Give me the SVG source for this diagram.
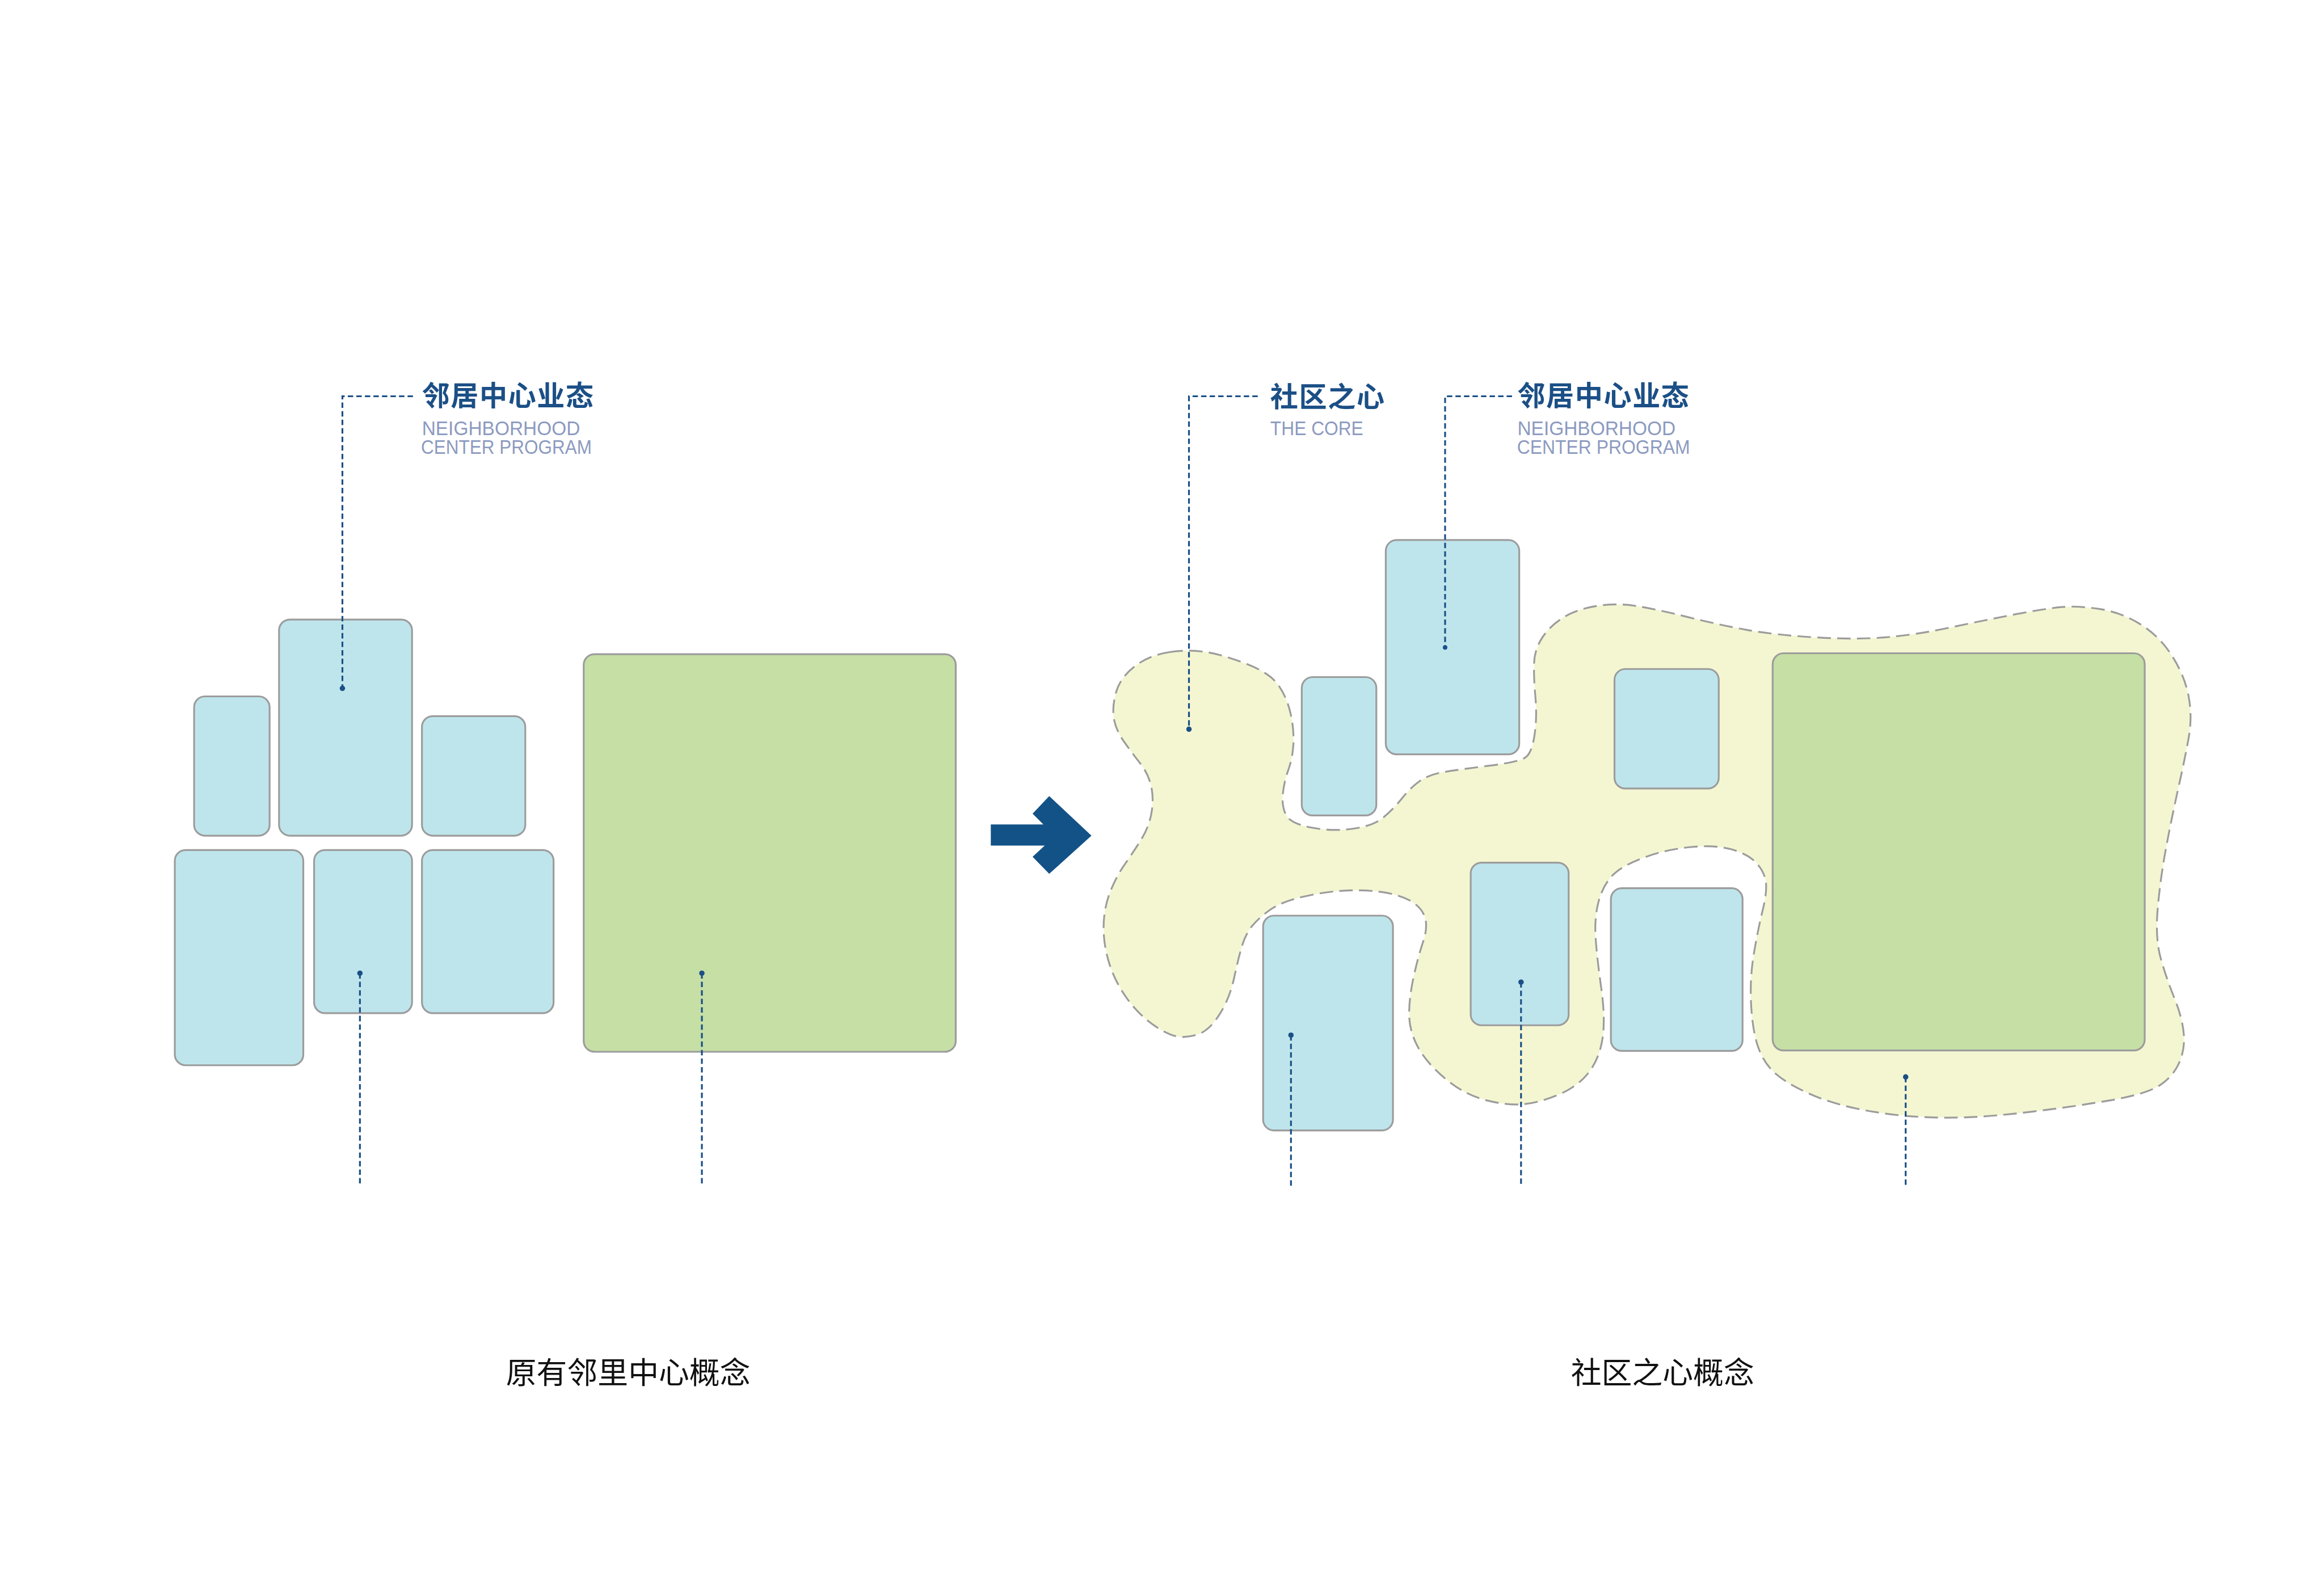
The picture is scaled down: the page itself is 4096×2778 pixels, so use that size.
<svg xmlns="http://www.w3.org/2000/svg" width="4096" height="2778" viewBox="0 0 4096 2778">
<defs>
<style>
.bx{fill:#BEE5EC;stroke:#9C9C9C;stroke-width:4}
.gr{fill:#C5DFA5;stroke:#9C9C9C;stroke-width:4}
.blob{fill:#F4F6D1;stroke:#9C9C9C;stroke-width:4;stroke-dasharray:30 14}
.ld{fill:none;stroke:#1B4F86;stroke-width:4;stroke-dasharray:12 7}
.dot{fill:#1B4F86}
.cn{font-family:"Noto Sans CJK SC","Noto Sans",sans-serif;font-weight:700;font-size:62px;fill:#1B4F86;letter-spacing:2px}
.en{font-family:"Liberation Sans","DejaVu Sans",sans-serif;font-size:44px;fill:#8C9AC0}
.cap{font-family:"Noto Sans CJK SC","Noto Sans",sans-serif;font-weight:400;font-size:68px;fill:#111111;text-anchor:middle}
</style>
</defs>
<rect width="4096" height="2778" fill="#FFFFFF"/>
<g transform="scale(0.79196)">
<g id="core-blob">
<path class="blob" d="M2602.5,1451.5 Q2647,1445 2685.5,1451.5 Q2724,1458 2775,1478 Q2826,1498 2845,1525 Q2864,1552 2872,1587.5 Q2880,1623 2878.5,1654.5 Q2877,1686 2867.5,1712.5 Q2858,1739 2855,1766 Q2852,1793 2861.5,1813 Q2871,1833 2918.5,1842 Q2966,1851 3011,1844.5 Q3056,1838 3078,1820 Q3100,1802 3120,1777 Q3140,1752 3160,1738 Q3180,1724 3212.5,1718.5 Q3245,1713 3312,1704.5 Q3379,1696 3394,1686.5 Q3409,1677 3415,1636.5 Q3421,1596 3417,1551.5 Q3413,1507 3414,1476 Q3415,1445 3433,1418 Q3451,1391 3481.5,1373 Q3512,1355 3554.5,1348.5 Q3597,1342 3639.5,1348.5 Q3682,1355 3754.5,1373 Q3827,1391 3887.5,1402 Q3948,1413 4039,1418.5 Q4130,1424 4196.5,1418.5 Q4263,1413 4336,1397.5 Q4409,1382 4481.5,1368 Q4554,1354 4590.5,1351 Q4627,1348 4675.5,1356 Q4724,1364 4766,1391 Q4808,1418 4835.5,1462.5 Q4863,1507 4871,1551.5 Q4879,1596 4871,1641 Q4863,1686 4848,1753 Q4833,1820 4820.5,1887 Q4808,1954 4802,2021 Q4796,2088 4808.5,2132.5 Q4821,2177 4839,2221.5 Q4857,2266 4860,2302 Q4863,2338 4848,2369 Q4833,2400 4802.5,2418 Q4772,2436 4693.5,2449.5 Q4615,2463 4524,2474 Q4433,2485 4372.5,2487 Q4312,2489 4251.5,2484.5 Q4191,2480 4130,2467 Q4069,2454 4020.5,2431.5 Q3972,2409 3948,2386.5 Q3924,2364 3912,2328.5 Q3900,2293 3897,2235 Q3894,2177 3903,2123.5 Q3912,2070 3923,2025 Q3934,1980 3929,1958 Q3924,1936 3906,1918 Q3888,1900 3851.5,1890 Q3815,1880 3760.5,1885.5 Q3706,1891 3657.5,1909 Q3609,1927 3588,1949 Q3567,1971 3557.5,2007 Q3548,2043 3551,2087.5 Q3554,2132 3563.5,2199 Q3573,2266 3566.5,2310.5 Q3560,2355 3536,2386.5 Q3512,2418 3469.5,2436 Q3427,2454 3390.5,2457.5 Q3354,2461 3306,2448.5 Q3258,2436 3215.5,2400 Q3173,2364 3154.5,2328.5 Q3136,2293 3136,2257 Q3136,2221 3145.5,2176.5 Q3155,2132 3167,2096.5 Q3179,2061 3170,2038.5 Q3161,2016 3134,2002.5 Q3107,1989 3068.5,1984.5 Q3030,1980 2988.5,1982.5 Q2947,1985 2899.5,1996 Q2852,2007 2826.5,2025 Q2801,2043 2786.5,2061 Q2772,2079 2764,2105.5 Q2756,2132 2746.5,2176.5 Q2737,2221 2714.5,2257 Q2692,2293 2666.5,2302 Q2641,2311 2618.5,2306.5 Q2596,2302 2564.5,2279.5 Q2533,2257 2507.5,2221.5 Q2482,2186 2469,2145.5 Q2456,2105 2456,2065 Q2456,2025 2469,1989.5 Q2482,1954 2504,1922.5 Q2526,1891 2542,1864.5 Q2558,1838 2563,1806.5 Q2568,1775 2561.5,1748 Q2555,1721 2537.5,1699 Q2520,1677 2501,1650 Q2482,1623 2478.5,1596.5 Q2475,1570 2484.5,1538.5 Q2494,1507 2526,1482.5 Q2558,1458 2602.5,1451.5 Z"/>
</g>
<g id="left-boxes">
<rect id="L1" class="bx" x="432" y="1550" width="168" height="310" rx="24"/>
<rect id="L2" class="bx" x="621" y="1379" width="296" height="481" rx="24"/>
<rect id="L3" class="bx" x="939" y="1594" width="230" height="266" rx="24"/>
<rect id="L4" class="bx" x="389" y="1892" width="286" height="479" rx="24"/>
<rect id="L5" class="bx" x="699" y="1892" width="218" height="363" rx="24"/>
<rect id="L6" class="bx" x="939" y="1892" width="293" height="363" rx="24"/>
<rect id="L7" class="gr" x="1299" y="1456" width="828" height="885" rx="24"/>
</g>
<g id="right-boxes">
<rect id="R1" class="bx" x="2811" y="2038" width="289" height="478" rx="24"/>
<rect id="R2" class="bx" x="2897" y="1507" width="166" height="308" rx="24"/>
<rect id="R3" class="bx" x="3084" y="1202" width="297" height="477" rx="24"/>
<rect id="R4" class="bx" x="3593" y="1489" width="232" height="266" rx="24"/>
<rect id="R5" class="bx" x="3273" y="1920" width="218" height="362" rx="24"/>
<rect id="R6" class="bx" x="3585" y="1977" width="293" height="362" rx="24"/>
<rect id="R7" class="gr" x="3945" y="1454" width="828" height="884" rx="24"/>
</g>
<g id="arrow">
<polygon fill="#135287" points="2205,1835 2322,1835 2298,1811 2335,1772 2429,1860 2335,1945 2298,1907 2325,1882 2205,1882"/>
</g>
<g id="connectors">
<polyline class="ld" points="919,882 762,882 762,1532"/>
<line class="ld" x1="801" y1="2166" x2="801" y2="2640"/>
<line class="ld" x1="1562" y1="2166" x2="1562" y2="2640"/>
<polyline class="ld" points="2799,882 2646,882 2646,1623"/>
<polyline class="ld" points="3365,882 3216,882 3216,1441"/>
<line class="ld" x1="2873" y1="2304" x2="2873" y2="2640"/>
<line class="ld" x1="3385" y1="2186" x2="3385" y2="2640"/>
<line class="ld" x1="4241" y1="2397" x2="4241" y2="2640"/>
<circle class="dot" cx="762" cy="1532" r="6"/>
<circle class="dot" cx="801" cy="2166" r="6"/>
<circle class="dot" cx="1562" cy="2166" r="6"/>
<circle class="dot" cx="2646" cy="1623" r="6"/>
<circle class="dot" cx="3216" cy="1441" r="5"/>
<circle class="dot" cx="2873" cy="2304" r="6"/>
<circle class="dot" cx="3385" cy="2186" r="6"/>
<circle class="dot" cx="4241" cy="2397" r="6"/>
</g>
<g id="label-left">
<text class="cn" x="939" y="903">邻居中心业态</text>
<text class="en" x="939" y="968" textLength="352" lengthAdjust="spacingAndGlyphs">NEIGHBORHOOD</text>
<text class="en" x="937" y="1010" textLength="380" lengthAdjust="spacingAndGlyphs">CENTER PROGRAM</text>
</g>
<g id="label-core">
<text class="cn" x="2827" y="905">社区之心</text>
<text class="en" x="2827" y="968" textLength="207" lengthAdjust="spacingAndGlyphs">THE CORE</text>
</g>
<g id="label-right">
<text class="cn" x="3377" y="903">邻居中心业态</text>
<text class="en" x="3377" y="968" textLength="352" lengthAdjust="spacingAndGlyphs">NEIGHBORHOOD</text>
<text class="en" x="3376" y="1010" textLength="385" lengthAdjust="spacingAndGlyphs">CENTER PROGRAM</text>
</g>
<g id="captions">
<text class="cap" x="1398" y="3080">原有邻里中心概念</text>
<text class="cap" x="3700" y="3080">社区之心概念</text>
</g>
</g>
</svg>
